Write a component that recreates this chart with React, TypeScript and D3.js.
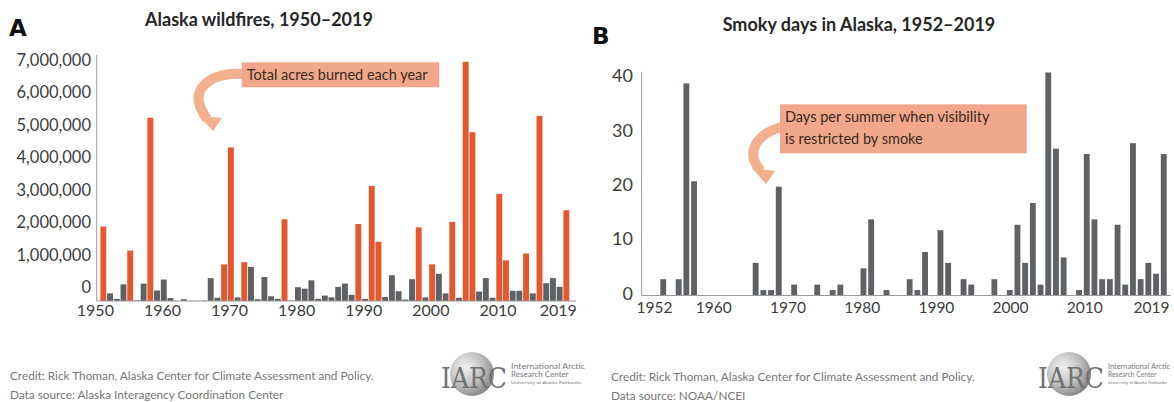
import React, { useEffect, useRef } from 'react';
import * as d3 from 'd3';

// Panel A: acres burned per year
const fireYears = d3.range(1950, 2020);
const acresBurned = [
  2050000, 210000, 60000, 460000, 1390000, 20000, 480000, 5050000, 290000, 590000,
  80000, 5000, 50000, 8000, 5000, 10000, 630000, 90000, 1010000, 4230000,
  100000, 1070000, 940000, 50000, 660000, 130000, 60000, 2250000, 10000, 380000,
  340000, 570000, 60000, 150000, 100000, 390000, 480000, 170000, 2120000, 60000,
  3170000, 1630000, 110000, 710000, 270000, 40000, 600000, 2030000, 100000, 1010000,
  750000, 210000, 2180000, 90000, 6590000, 4650000, 260000, 630000, 90000, 2950000,
  1120000, 280000, 280000, 1310000, 210000, 5100000, 490000, 630000, 390000, 2500000,
];
const acreTicks = [0, 1000000, 2000000, 3000000, 4000000, 5000000, 6000000, 7000000];
const fireYearLabels = [1950, 1960, 1970, 1980, 1990, 2000, 2010, 2019];
const bigYearThreshold = 1000000;

// Panel B: smoky days per summer
const smokeYears = d3.range(1952, 2020);
const smokyDays = [
  0, 0, 3, 0, 3, 39, 21, 0, 0, 0,
  0, 0, 0, 0, 6, 1, 1, 20, 0, 2,
  0, 0, 2, 0, 1, 2, 0, 0, 5, 14,
  0, 1, 0, 0, 3, 1, 8, 0, 12, 6,
  0, 3, 2, 0, 0, 3, 0, 1, 13, 6,
  17, 2, 41, 27, 7, 0, 1, 26, 14, 3,
  3, 13, 2, 28, 3, 6, 4, 26,
];
const smokeTicks = [0, 10, 20, 30, 40];
const smokeYearLabels = [1952, 1960, 1970, 1980, 1990, 2000, 2010, 2019];

const WIDTH = 1174;
const HEIGHT = 402;
const FONT = 'Lato, "Open Sans", sans-serif';
const ORANGE = '#e5572e';
const GRAY = '#5e6265';
const AXIS = '#9a9a9a';
const SALMON = '#f1a88a';
const ARROW = '#f2b08f';

type G = d3.Selection<SVGGElement, unknown, null, undefined>;

function drawLogo(g: G, x: number, textW: number) {
  // IARC logo, x is the left edge of the "IARC" letters
  const grad = `globe-${Math.round(x)}`;
  const defs = g.append('defs');
  const rg = defs.append('radialGradient').attr('id', grad).attr('cx', '35%').attr('cy', '35%').attr('r', '70%');
  rg.append('stop').attr('offset', '0%').attr('stop-color', '#f2f2f2');
  rg.append('stop').attr('offset', '60%').attr('stop-color', '#bdbdbd');
  rg.append('stop').attr('offset', '100%').attr('stop-color', '#858585');

  g.append('circle')
    .attr('cx', x + 31)
    .attr('cy', 374)
    .attr('r', 22)
    .attr('fill', `url(#${grad})`);

  g.append('text')
    .attr('x', x)
    .attr('y', 388)
    .attr('textLength', 66)
    .attr('lengthAdjust', 'spacingAndGlyphs')
    .style('font-family', '"DejaVu Serif", serif')
    .style('font-size', '27px')
    .style('fill', '#727272')
    .text('IARC');

  const small = [
    { t: 'International Arctic', s: 7.5, y: 369, w: 1 },
    { t: 'Research Center', s: 7.5, y: 377, w: 0.78 },
    { t: 'University of Alaska Fairbanks', s: 4.5, y: 384, w: 0.95 },
  ];
  small.forEach(d => {
    g.append('text')
      .attr('x', x + 70)
      .attr('y', d.y)
      .attr('textLength', textW * d.w)
      .attr('lengthAdjust', 'spacingAndGlyphs')
      .style('font-family', FONT)
      .style('font-size', `${d.s}px`)
      .style('fill', '#7a7a7a')
      .text(d.t);
  });
}

function drawCallout(
  g: G,
  box: { x: number; y: number; w: number; h: number },
  lines: string[],
  lineY: number[],
  body: string,
  head: [number, number][]
) {
  g.append('path')
    .attr('d', body)
    .attr('fill', 'none')
    .attr('stroke', ARROW)
    .attr('stroke-width', 10)
    .attr('stroke-linecap', 'butt');

  g.append('path')
    .attr('d', d3.line()(head) + 'Z')
    .attr('fill', ARROW);

  g.append('rect')
    .attr('x', box.x)
    .attr('y', box.y)
    .attr('width', box.w)
    .attr('height', box.h)
    .attr('fill', SALMON);

  lines.forEach((t, i) => {
    g.append('text')
      .attr('x', box.x + 5)
      .attr('y', lineY[i])
      .style('font-family', FONT)
      .style('font-size', '14.5px')
      .style('fill', '#3a2a24')
      .text(t);
  });
}

const App: React.FC = () => {
  const svgRef = useRef<SVGSVGElement>(null);

  useEffect(() => {
    if (!svgRef.current) return;
    document.body.style.margin = '0';

    const svg = d3.select(svgRef.current);
    svg.selectAll('*').remove();
    svg.attr('width', WIDTH).attr('height', HEIGHT);

    svg.append('rect').attr('width', WIDTH).attr('height', HEIGHT).attr('fill', '#ffffff');

    // ---------- Panel A ----------
    const a = svg.append('g') as unknown as G;

    const xA = d3.scaleBand<number>()
      .domain(fireYears)
      .range([100, 569.7])
      .paddingInner(0.12)
      .paddingOuter(0.06);

    // bars sit on the baseline; the printed tick labels in the original are
    // set a bit off the bar scale, so they get their own scale
    const yA = d3.scaleLinear().domain([0, 7000000]).range([301, 46.9]);
    const yALabels = d3.scaleLinear().domain([0, 7000000]).range([287.7, 60]);

    a.selectAll('rect.bar')
      .data(acresBurned)
      .enter()
      .append('rect')
      .attr('class', 'bar')
      .attr('x', (_, i) => xA(fireYears[i]) as number)
      .attr('width', xA.bandwidth())
      .attr('y', d => yA(d))
      .attr('height', d => yA(0) - yA(d))
      .attr('fill', d => (d >= bigYearThreshold ? ORANGE : GRAY));

    a.append('line')
      .attr('x1', 96.7).attr('x2', 96.7)
      .attr('y1', 55).attr('y2', 301)
      .attr('stroke', AXIS).attr('stroke-width', 1);
    a.append('line')
      .attr('x1', 96.7).attr('x2', 576)
      .attr('y1', 301).attr('y2', 301)
      .attr('stroke', AXIS).attr('stroke-width', 1);

    const yAxisA = a.append('g')
      .attr('transform', 'translate(91,0)')
      .call(d3.axisLeft(yALabels).tickValues(acreTicks).tickSize(0).tickPadding(0).tickFormat(d3.format(',') as any));
    yAxisA.select('.domain').remove();
    yAxisA.selectAll('text')
      .style('font-family', FONT)
      .style('font-size', '16.5px')
      .style('fill', '#3d3d3d');

    const xAxisA = a.append('g')
      .attr('transform', 'translate(-8,301)')
      .call(d3.axisBottom(xA).tickValues(fireYearLabels).tickSize(0).tickPadding(4));
    xAxisA.select('.domain').remove();
    xAxisA.selectAll('text')
      .style('font-family', FONT)
      .style('font-size', '16px')
      .style('fill', '#3d3d3d');

    a.append('text')
      .attr('x', 259)
      .attr('y', 26)
      .attr('text-anchor', 'middle')
      .style('font-family', FONT)
      .style('font-size', '18px')
      .style('font-weight', '700')
      .style('fill', '#262626')
      .text('Alaska wildfires, 1950–2019');

    a.append('text')
      .attr('x', 9)
      .attr('y', 36)
      .style('font-family', '"DejaVu Sans", sans-serif')
      .style('font-size', '23px')
      .style('font-weight', '700')
      .style('fill', '#111')
      .text('A');

    drawCallout(
      a,
      { x: 241.7, y: 62.3, w: 197.6, h: 25 },
      ['Total acres burned each year'],
      [79.5],
      'M 243 74 C 214 72, 195 86, 199 103 C 201 110, 204 115, 207 119',
      [[199, 116], [222, 118], [213, 131]]
    );

    a.append('text')
      .attr('x', 10).attr('y', 380)
      .style('font-family', FONT).style('font-size', '11.8px').style('fill', '#777')
      .text('Credit: Rick Thoman, Alaska Center for Climate Assessment and Policy.');
    a.append('text')
      .attr('x', 10).attr('y', 399)
      .style('font-family', FONT).style('font-size', '11.8px').style('fill', '#777')
      .text('Data source: Alaska Interagency Coordination Center');

    drawLogo(a, 441, 74);

    // ---------- Panel B ----------
    const b = svg.append('g') as unknown as G;

    const xB = d3.scaleBand<number>()
      .domain(smokeYears)
      .range([644, 1167.6])
      .paddingInner(0.24)
      .paddingOuter(0.12);

    // year labels in the original are spaced slightly tighter than the bars
    const xBLabels = d3.scaleLinear().domain([1952, 2019]).range([654, 1151]);

    const yB = d3.scaleLinear().domain([0, 40]).range([295.5, 77.9]);

    b.selectAll('rect.bar')
      .data(smokyDays)
      .enter()
      .append('rect')
      .attr('class', 'bar')
      .attr('x', (_, i) => xB(smokeYears[i]) as number)
      .attr('width', xB.bandwidth())
      .attr('y', d => yB(d))
      .attr('height', d => yB(0) - yB(d))
      .attr('fill', GRAY);

    b.append('line')
      .attr('x1', 641.7).attr('x2', 641.7)
      .attr('y1', 71.7).attr('y2', 295.5)
      .attr('stroke', AXIS).attr('stroke-width', 1);
    b.append('line')
      .attr('x1', 641.7).attr('x2', 1171)
      .attr('y1', 295.5).attr('y2', 295.5)
      .attr('stroke', AXIS).attr('stroke-width', 1);

    const yAxisB = b.append('g')
      .attr('transform', 'translate(633,-2)')
      .call(d3.axisLeft(yB).tickValues(smokeTicks).tickSize(0).tickPadding(0));
    yAxisB.select('.domain').remove();
    yAxisB.selectAll('text')
      .style('font-family', FONT)
      .style('font-size', '18px')
      .style('fill', '#3d3d3d');

    const xAxisB = b.append('g')
      .attr('transform', 'translate(0,295.5)')
      .call(d3.axisBottom(xBLabels).tickValues(smokeYearLabels).tickSize(0).tickPadding(6).tickFormat(d3.format('d') as any));
    xAxisB.select('.domain').remove();
    xAxisB.selectAll('text')
      .style('font-family', FONT)
      .style('font-size', '15.5px')
      .style('fill', '#3d3d3d');

    b.append('text')
      .attr('x', 859)
      .attr('y', 31)
      .attr('text-anchor', 'middle')
      .style('font-family', FONT)
      .style('font-size', '18px')
      .style('font-weight', '700')
      .style('fill', '#262626')
      .text('Smoky days in Alaska, 1952–2019');

    b.append('text')
      .attr('x', 592)
      .attr('y', 44)
      .style('font-family', '"DejaVu Sans", sans-serif')
      .style('font-size', '23px')
      .style('font-weight', '700')
      .style('fill', '#111')
      .text('B');

    drawCallout(
      b,
      { x: 780, y: 104.3, w: 246.7, h: 49 },
      ['Days per summer when visibility', 'is restricted by smoke'],
      [122, 144],
      'M 782 127 C 762 132, 750 145, 754 160 C 756 165, 758 168, 761 171',
      [[752, 168], [775, 171], [766, 184]]
    );

    b.append('text')
      .attr('x', 611).attr('y', 381)
      .style('font-family', FONT).style('font-size', '11.8px').style('fill', '#777')
      .text('Credit: Rick Thoman, Alaska Center for Climate Assessment and Policy.');
    b.append('text')
      .attr('x', 611).attr('y', 400)
      .style('font-family', FONT).style('font-size', '11.8px').style('fill', '#777')
      .text('Data source: NOAA/NCEI');

    drawLogo(b, 1038, 62);
  }, []);

  return <svg ref={svgRef} style={{ display: 'block' }}></svg>;
};

export default App;
